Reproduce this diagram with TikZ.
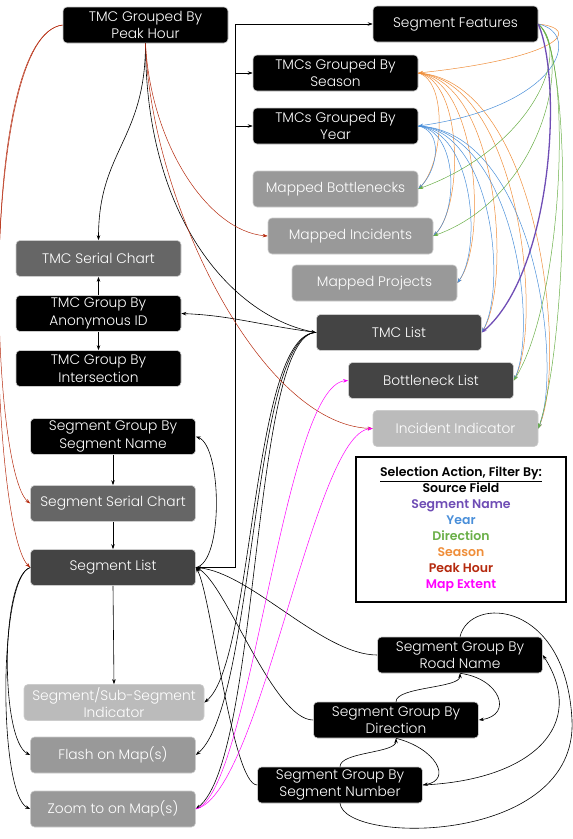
\documentclass[tikz,border=0pt]{standalone}
\usepackage{fontspec}
\setmainfont{Poppins}[UprightFont=* Light,BoldFont=* SemiBold]
\usepackage{xcolor}
\usepackage{tikz}
\usetikzlibrary{arrows.meta}

\definecolor{listgray}{HTML}{444444}
\definecolor{chartgray}{HTML}{666666}
\definecolor{mapgray}{HTML}{999999}
\definecolor{indgray}{HTML}{BBBBBB}
\definecolor{segnamec}{HTML}{6F4DB5}
\definecolor{yearc}{HTML}{4A8FD9}
\definecolor{dirc}{HTML}{6AAF48}
\definecolor{seasonc}{HTML}{EF8E3A}
\definecolor{peakc}{HTML}{B52A0E}
\definecolor{mapc}{HTML}{FF00FF}

\begin{document}
\begin{tikzpicture}[x=1pt,y=-1pt,
  box/.style={rounded corners=4pt,minimum width=165pt,minimum height=36pt,inner sep=1pt,
    align=center,text=white,draw=black!20,line width=0.6pt,font=\fontsize{13.8}{17.5}\selectfont},
  blk/.style={box,fill=black},
  lst/.style={box,fill=listgray},
  chart/.style={box,fill=chartgray},
  mapd/.style={box,fill=mapgray},
  ind/.style={box,fill=indgray},
  link/.style={-{Stealth[length=5pt,width=3.5pt]},line width=0.6pt},
  thin link/.style={link,line width=0.5pt}]
  \useasboundingbox (0,0) rectangle (573,839);

  % top row
  \node[blk] (peakhr) at (145.5,25) {TMC Grouped By\\Peak Hour};
  \node[blk] (segfeat) at (455.5,24) {Segment Features};
  \node[blk] (season) at (335.5,73) {TMCs Grouped By\\Season};
  \node[blk] (year) at (335.5,126) {TMCs Grouped By\\Year};
  \node[mapd] (mapbott) at (335.5,189) {Mapped Bottlenecks};
  \node[mapd] (mapinc) at (350.5,236) {Mapped Incidents};
  \node[mapd] (mapproj) at (374.5,283) {Mapped Projects};

  % tmc column
  \node[chart] (tmcchart) at (98.5,258.5) {TMC Serial Chart};
  \node[blk] (anonid) at (98.5,313.5) {TMC Group By\\Anonymous ID};
  \node[blk] (intersect) at (98.5,368.5) {TMC Group By\\Intersection};
  \node[lst] (tmclist) at (399,332.5) {TMC List};
  \node[lst] (bottlist) at (431,380.5) {Bottleneck List};
  \node[ind] (incind) at (455.5,428.5) {Incident Indicator};

  % segment column
  \node[blk] (segname) at (113,436.5) {Segment Group By\\Segment Name};
  \node[chart] (segchart) at (113,503.5) {Segment Serial Chart};
  \node[lst] (seglist) at (113,567.5) {Segment List};
  \node[ind,minimum width=180pt] (subseg) at (114,702.5) {Segment/Sub-Segment\\Indicator};
  \node[mapd] (flash) at (113,755) {Flash on Map(s)};
  \node[mapd] (zoomto) at (113,809) {Zoom to on Map(s)};

  % segment groups
  \node[blk] (roadname) at (460,655) {Segment Group By\\Road Name};
  \node[blk] (direction) at (396,720) {Segment Group By\\Direction};
  \node[blk] (segnum) at (340,785) {Segment Group By\\Segment Number};

  % legend
  \node[draw,line width=2.5pt,minimum width=210pt,minimum height=145pt,align=center,
    font=\bfseries\fontsize{12.5}{16}\selectfont] (legend) at (461,529.5)
    {\underline{Selection Action, Filter By:}\\Source Field\\
     \textcolor{segnamec}{Segment Name}\\\textcolor{yearc}{Year}\\
     \textcolor{dirc}{Direction}\\\textcolor{seasonc}{Season}\\
     \textcolor{peakc}{Peak Hour}\\\textcolor{mapc}{Map Extent}};

  % black links
  \coordinate (bus) at (235,24);
  \draw[link] (seglist.east) -| (bus) -- (segfeat.west);
  \draw[link] (bus |- season.west) -- (season.west);
  \draw[link] (bus |- year.west) -- (year.west);
  \draw[link] (peakhr.south) .. controls +(0,97) and +(0,-90) .. (tmcchart.north);
  \draw[link] (peakhr.south) .. controls +(0,180) and +(-80,-15) .. (tmclist.west);
  \draw[link] (anonid.north) -- (tmcchart.south);
  \draw[link] (anonid.south) -- (intersect.north);
  \draw[link] (tmclist.west) .. controls +(-60,-8) and +(50,2) .. (anonid.east);
  \draw[link] (tmclist.west) .. controls +(-65,0) and +(50,-40) .. (subseg.east);
  \draw[link] (tmclist.west) .. controls +(-65,0) and +(60,-50) .. (flash.east);
  \draw[link] (tmclist.west) .. controls +(-65,0) and +(65,-50) .. (zoomto.east);
  \draw[link] (segname.south) -- (segchart.north);
  \draw[link] (segchart.south) -- (seglist.north);
  \draw[link] (seglist.south) -- (subseg.north);
  \draw[link] (seglist.east) .. controls +(28,-5) and +(26,10) .. (segname.east);
  \draw[link] (seglist.west) .. controls +(-30,10) and +(-30,-15) .. (flash.west);
  \draw[link] (seglist.west) .. controls +(-32,10) and +(-32,-15) .. (zoomto.west);
  \draw[link] (roadname.west) .. controls +(-55,0) and +(55,5) .. (seglist.east);
  \draw[link] (direction.west) .. controls +(-40,0) and +(30,15) .. (seglist.east);
  \draw[link] (segnum.west) .. controls +(-25,0) and +(15,25) .. (seglist.east);
  \draw[link] (direction.north) .. controls +(0,-15) and +(0,15) .. (roadname.south);
  \draw[link] (roadname.south) .. controls +(40,5) and +(35,-5) .. (direction.east);
  \draw[link] (segnum.north) .. controls +(0,-15) and +(0,15) .. (direction.south);
  \draw[link] (direction.south) .. controls +(40,10) and +(30,-5) .. (segnum.east);
  \draw[link] (segnum.east) .. controls +(110,-5) and +(45,70) .. (roadname.east);
  \draw[line width=0.6pt] (segnum.south) .. controls (345,845) and (578,845) .. (572,720)
    .. controls (566,600) and (470,595) .. (roadname.north);

  % peak hour
  \draw[thin link,peakc] (peakhr.west) .. controls +(-85,10) and +(-40,-33) .. (segchart.west);
  \draw[thin link,peakc] (peakhr.west) .. controls +(-88,10) and +(-40,-40) .. (seglist.west);
  \draw[thin link,peakc] (peakhr.south) .. controls +(5,100) and +(-60,-5) .. (mapinc.west);
  \draw[thin link,peakc] (peakhr.south) .. controls +(5,157) and +(-113,-4) .. (incind.west);

  % map extent
  \draw[thin link,mapc] (zoomto.east) .. controls +(55,-15) and +(-65,5) .. (bottlist.west);
  \draw[thin link,mapc] (zoomto.east) .. controls +(65,-15) and +(-60,5) .. (incind.west);

  % season and year
  \foreach \t/\a/\b/\c in {mapbott/30/25/25, mapinc/45/30/30, mapproj/60/30/40,
      tmclist/80/30/50, bottlist/100/30/60, incind/120/30/70}{
    \draw[thin link,seasonc] (season.east) .. controls +(\a,8) and +(\b,-\c) .. (\t.east);
    \draw[thin link,yearc] (year.east) .. controls +(\a-5,5) and +(\b-5,-\c+5) .. (\t.east);
  }

  % segment features
  \draw[thin link,seasonc] (segfeat.east) .. controls +(45,5) and +(140,-15) .. (season.east);
  \draw[thin link,yearc] (segfeat.east) .. controls +(45,10) and +(140,-20) .. (year.east);
  \foreach \t/\b/\c in {mapbott/110/40, mapinc/110/40, bottlist/50/80, incind/30/90}
    \draw[thin link,dirc] (segfeat.east) .. controls +(35,30) and +(\b,-\c) .. (\t.east);
  \draw[link,segnamec,line width=1.3pt] (segfeat.east) .. controls +(25,60) and +(70,-60) .. (tmclist.east);
\end{tikzpicture}
\end{document}
